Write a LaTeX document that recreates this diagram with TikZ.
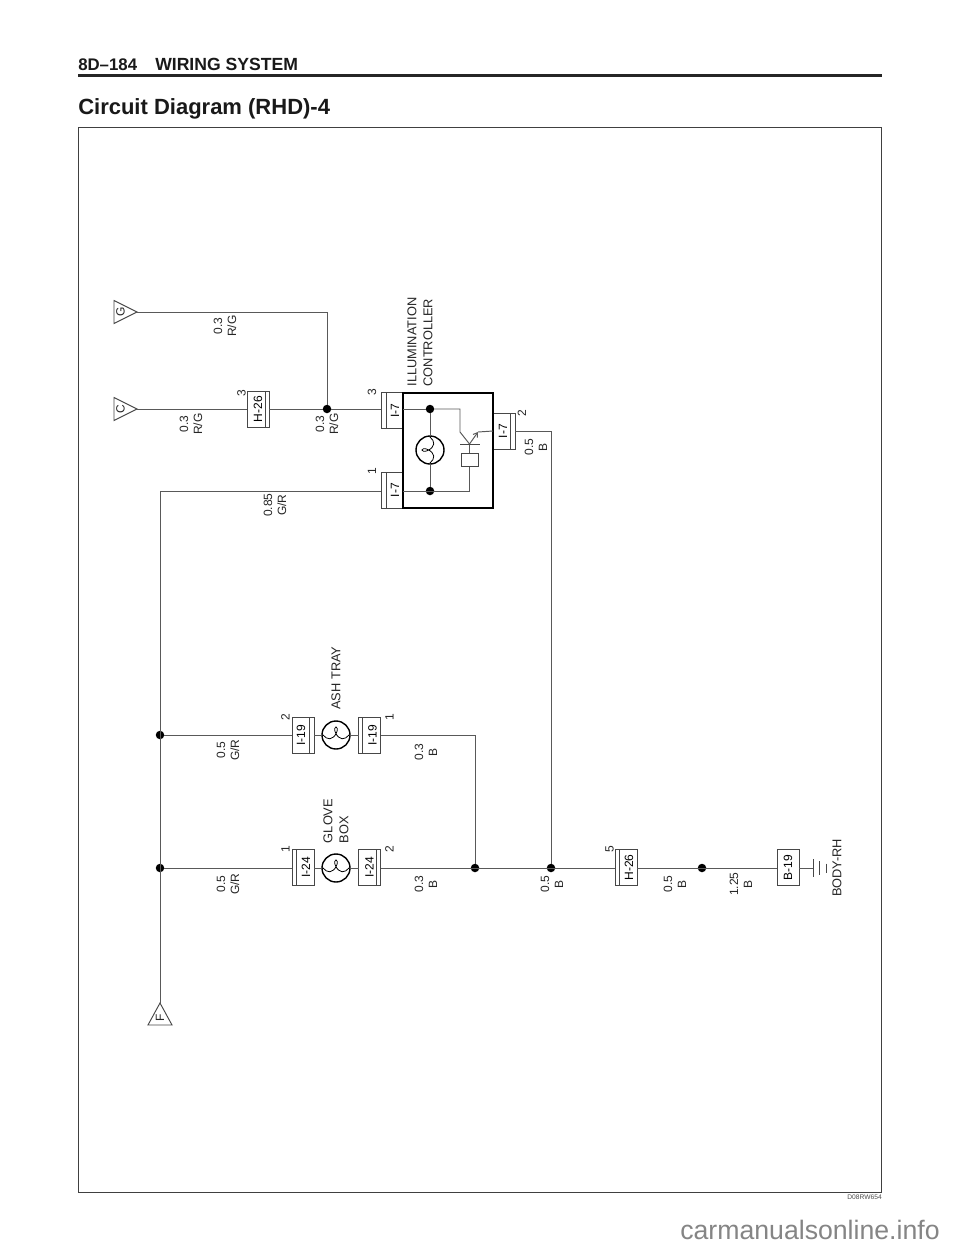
\documentclass[tikz,border=0pt]{standalone}
\usepackage{fontspec}
\usepackage{graphicx}
\usetikzlibrary{arrows.meta}
\setmainfont{Liberation Sans}
\def\px{0.75pt}
\newcommand{\rt}[1]{\rotatebox{90}{#1}}
% connector text moved right (\rr) or left (\rl) of the box centre; the argument is twice the shift in pt
\newcommand{\rr}[2]{\kern#1pt\rotatebox{90}{#2}}
\newcommand{\rl}[2]{\rotatebox{90}{#2}\kern#1pt}
\newcommand{\filament}[3]{\begin{scope}[shift={(#1,#2)},rotate=#3]
\draw[lampline] (-13,0) .. controls (-9,5) and (-3,6) .. (0.8,-3) .. controls (2,-6) and (1,-8) .. (0,-8) .. controls (-1,-8) and (-2,-6) .. (-0.8,-3) .. controls (3,6) and (9,5) .. (13,0);
\end{scope}}
\tikzset{
  x=0.75pt,y=-0.75pt,
  wire/.style={draw=black!65,line width=0.72pt},
  boxline/.style={draw=black!72,line width=0.7pt},
  lampline/.style={draw=black,line width=0.6pt},
  conn/.style={boxline,fill=white,inner sep=0pt,outer sep=0pt,minimum width=22*\px,minimum height=36*\px,font=\fontsize{9}{10}\selectfont},
  lamp/.style={circle,draw=black,line width=1.05pt,fill=white,inner sep=0pt,outer sep=0pt,minimum size=28*\px},
  junction/.style={circle,fill=black,inner sep=0pt,outer sep=0pt,minimum size=8.5*\px},
  lab/.style={rotate=90,inner sep=0pt,align=center,text=black!85,font=\fontsize{9}{10.5}\selectfont},
  namelab/.style={rotate=90,inner sep=0pt,align=left,text=black!85,font=\fontsize{9.6}{12}\selectfont},
  pinlab/.style={rotate=90,inner sep=0pt,text=black!85,font=\fontsize{9}{10}\selectfont},
  headtext/.style={anchor=base west,inner sep=0pt,text=black!90},
}
\begin{document}
\begin{tikzpicture}
\useasboundingbox (0,0) rectangle (960,1250);
\fill[white] (0,0) rectangle (960,1250);
% header
\node[headtext,font=\bfseries\fontsize{12.6}{14}\selectfont] (page) at (78,70) {8D–184};
\node[headtext,font=\bfseries\fontsize{13.2}{14}\selectfont] (sys) at (155,70) {WIRING SYSTEM};
\draw[black!85,line width=1.9pt] (78,75.5) -- (882,75.5);
\node[headtext,font=\bfseries\fontsize{16.5}{18}\selectfont] (title) at (78,114) {Circuit Diagram (RHD)-4};
\draw[black!75,line width=0.85pt] (78.5,127.5) rectangle (881.5,1192.5);
\node[anchor=north east,inner sep=0pt,font=\fontsize{5}{6}\selectfont,text=black!70] (code) at (882,1194.5) {D08RW654};
\node[anchor=base west,inner sep=0pt,font=\fontsize{20}{22}\selectfont,text=black!48] (mark) at (680,1239) {carmanualsonline.info};

% connectors
\node[conn] (H26a) at (258,409) {\rt{H-26}};
\node[conn] (I7a) at (392,410.5) {\rr{4.5}{I-7}};
\node[conn] (I7b) at (392,490) {\rr{4.5}{I-7}};
\node[conn] (I7c) at (504,431) {\rl{1.5}{I-7}};
\node[conn] (I19a) at (303,735) {\rl{3}{I-19}};
\node[conn] (I19b) at (369.5,735) {\rr{4.5}{I-19}};
\node[conn] (I24a) at (303,867.5) {\rr{4.5}{I-24}};
\node[conn] (I24b) at (369.5,867.5) {\rt{I-24}};
\node[conn] (H26b) at (626,867.5) {\rr{4.5}{H-26}};
\node[conn] (B19) at (788,867.5) {\rt{B-19}};

% controller
\node[draw=black,line width=1.05pt,inner sep=0pt,outer sep=0pt,minimum width=90*\px,minimum height=115*\px] (ctrl) at (448,450.5) {};
\node[lamp] (L1) at (430,450) {};
\node[lamp] (L2) at (336,735) {};
\node[lamp] (L3) at (336,868) {};

% junctions
\node[junction] (Ja) at (327,409) {};
\node[junction] (Jb) at (430,409) {};
\node[junction] (Jc) at (430,491) {};
\node[junction] (Jd) at (160,735) {};
\node[junction] (Je) at (160,868) {};
\node[junction] (Jf) at (475,868) {};
\node[junction] (Jg) at (551,868) {};
\node[junction] (Jh) at (702,868) {};

% off-page triangles
\coordinate (Gtip) at (137,312);
\coordinate (Ctip) at (137,409);
\coordinate (Ftip) at (160,1003);
\draw[boxline] (Gtip) -- (114,300.5) -- (114,323.5) -- cycle;
\draw[boxline] (Ctip) -- (114,397.5) -- (114,420.5) -- cycle;
\draw[boxline] (Ftip) -- (148,1025) -- (172,1025) -- cycle;
\node[pinlab] (Gl) at (120.5,312) {G};
\node[pinlab] (Cl) at (120.5,409) {C};
\node[pinlab] (Fl) at (160,1018) {F};

% wires
\draw[wire] (Gtip) -| (Ja);
\draw[wire] (Ctip) -- (H26a.west |- Ctip);
\draw[wire] (H26a.east |- Ja) -- (Ja);
\draw[wire] (Ja) -- (I7a.west |- Ja);
\coordinate (Tl) at (160,491);
\draw[wire] (Ftip) -- (Tl) -- (I7b.west |- Tl);
\draw[wire] (Jd) -- (I19a.west |- Jd);
\draw[wire] (I19a.east |- Jd) -- (L2.west);
\draw[wire] (L2.east) -- (I19b.west |- L2);
\coordinate (Tr) at (475,735);
\draw[wire] (I19b.east |- L2) -- (Tr) -- (Jf);
\draw[wire] (Je) -- (I24a.west |- Je);
\draw[wire] (I24a.east |- Je) -- (L3.west);
\draw[wire] (L3.east) -- (I24b.west |- L3);
\draw[wire] (I24b.east |- L3) -- (H26b.west |- L3);
\draw[wire] (H26b.east |- L3) -- (B19.west |- L3);
\coordinate (Gnd) at (813,868);
\draw[wire] (B19.east |- L3) -- (Gnd);
\coordinate (Tc) at (551,431);
\draw[wire] (I7c.east) -- (Tc) -- (Jg);
% inside controller
\draw[wire] (ctrl.west |- Jb) -- (Jb);
\draw[wire] (Jb) -- (L1.north);
\draw[wire] (L1.south) -- (Jc);
\coordinate (Coil1) at (469.5,453);
\coordinate (Coil2) at (469.5,466);
\coordinate (Base) at (469.5,444);
\coordinate (Col) at (460,432);
\coordinate (Emi) at (478,432);
\draw[wire] (ctrl.west |- Jc) -- (Coil2 |- Jc) -- (Coil2);
\draw[wire] (Coil1) -- (Base);
\draw[wire] (Jb) -- (Col |- Jb) -- (Col) -- (Base);
\draw[wire,-{Straight Barb[length=3pt,width=4pt]}] (Base) -- (Emi);
\draw[wire] (Emi) -- (I7c.west);
\draw[boxline] (460,444) -- (479.5,444);
\draw[boxline,fill=white] (461,453) rectangle (478,466);
\filament{336}{735}{0}
\filament{336}{868}{0}
\filament{430}{450}{90}

% connector stripes
\foreach \c/\d in {H26a/-4,I19a/-5,I24b/-4,I7c/-5}{
  \draw[boxline] ([xshift=\d*\px]\c.north east) -- ([xshift=\d*\px]\c.south east);}
\foreach \c/\d in {I7a/5,I7b/5,I19b/4,I24a/4,H26b/4}{
  \draw[boxline] ([xshift=\d*\px]\c.north west) -- ([xshift=\d*\px]\c.south west);}

% ground
\draw[boxline] (Gnd) ++(0,-9) -- ++(0,18);
\draw[boxline] (819.5,861) -- (819.5,875);
\draw[boxline] (826,863.5) -- (826,872.5);

% pin numbers
\node[pinlab] (p1) at (241.5,393) {3};
\node[pinlab] (p2) at (372,392) {3};
\node[pinlab] (p3) at (372,471) {1};
\node[pinlab] (p4) at (522,413) {2};
\node[pinlab] (p5) at (285.5,717) {2};
\node[pinlab] (p6) at (389.5,717) {1};
\node[pinlab] (p7) at (285.5,849) {1};
\node[pinlab] (p8) at (389.5,849) {2};
\node[pinlab] (p9) at (609.5,849) {5};

% wire labels
\node[lab] (w1) at (225,326) {0.3\\R/G};
\node[lab] (w2) at (191,424) {0.3\\R/G};
\node[lab] (w3) at (327,424) {0.3\\R/G};
\node[lab] (w4) at (275,505) {0.85\\G/R};
\node[lab] (w5) at (536,447) {0.5\\B};
\node[lab] (w6) at (228,750) {0.5\\G/R};
\node[lab] (w7) at (426,752) {0.3\\B};
\node[lab] (w8) at (228,884) {0.5\\G/R};
\node[lab] (w9) at (426,884) {0.3\\B};
\node[lab] (w10) at (552,884) {0.5\\B};
\node[lab] (w11) at (675,884) {0.5\\B};
\node[lab] (w12) at (741,884) {1.25\\B};

% component names
\node[namelab] (n1) at (420,342) {ILLUMINATION\\CONTROLLER};
\node[namelab] (n2) at (336,678) {ASH TRAY};
\node[namelab] (n3) at (336,821) {GLOVE\\BOX};
\node[namelab] (n4) at (837,868) {BODY-RH};
\end{tikzpicture}
\end{document}
